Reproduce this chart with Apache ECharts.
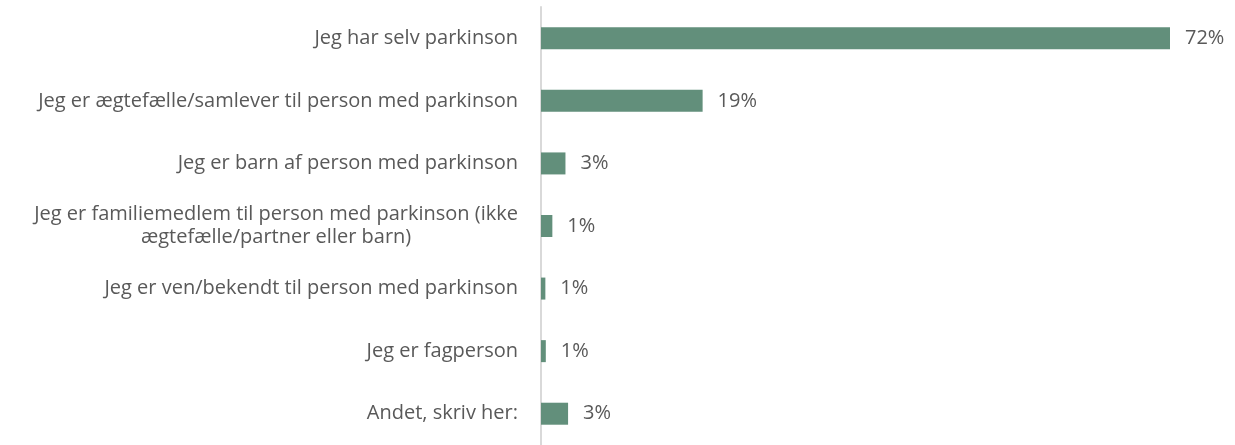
<!DOCTYPE html>
<html>
<head>
<meta charset="utf-8">
<script src="https://cdn.jsdelivr.net/npm/echarts@6/dist/echarts.min.js"></script>
<style>
    html, body { margin: 0; padding: 0; background: #ffffff; }
    #chart { width: 1235px; height: 445px; }
</style>
</head>
<body>
<div id="chart"></div>
<script>
    // kategorier (oppefra og ned)
    var categories = [
        'Jeg har selv parkinson',
        'Jeg er ægtefælle/samlever til person med parkinson',
        'Jeg er barn af person med parkinson',
        'Jeg er familiemedlem til person med parkinson (ikke\nægtefælle/partner eller barn)',
        'Jeg er ven/bekendt til person med parkinson',
        'Jeg er fagperson',
        'Andet, skriv her:'
    ]
    // andele i procent
    var values = [72, 18.5, 2.8, 1.3, 0.5, 0.55, 3.1]

    var textColor = '#595959'
    var fontFam = '"Open Sans", sans-serif'
    var fontSize = 20

    var chart = echarts.init(document.getElementById('chart'))
    var option = {
        animation: false,
        grid: {
            left: 541,
            right: 65,
            top: 7,
            height: 446
        },
        xAxis: {
            type: 'value',
            min: 0,
            // 72% ender ved x=1170 -> bredde 629 px
            max: 72 * (1235 - 541 - 65) / 629,
            show: false
        },
        yAxis: {
            type: 'category',
            inverse: true,
            data: categories,
            axisLine: { lineStyle: { color: '#d9d9d9', width: 2 } },
            axisTick: { show: false },
            axisLabel: {
                margin: 23,
                color: textColor,
                fontFamily: fontFam,
                fontSize: fontSize,
                lineHeight: 23,
                formatter: function (v) {
                    return v.split('\n').map(function (s) { return '{c|' + s + '}' }).join('\n')
                },
                rich: {
                    c: { align: 'center', color: textColor, fontFamily: fontFam, fontSize: fontSize, lineHeight: 23 }
                }
            }
        },
        series: [{
            type: 'bar',
            data: values,
            barWidth: 22,
            itemStyle: { color: '#628f7b' },
            label: {
                show: true,
                position: 'right',
                distance: 15,
                color: textColor,
                fontFamily: fontFam,
                fontSize: fontSize,
                formatter: function (p) { return Math.round(p.value) + '%' }
            }
        }]
    }
    chart.setOption(option)
</script>
</body>
</html>
